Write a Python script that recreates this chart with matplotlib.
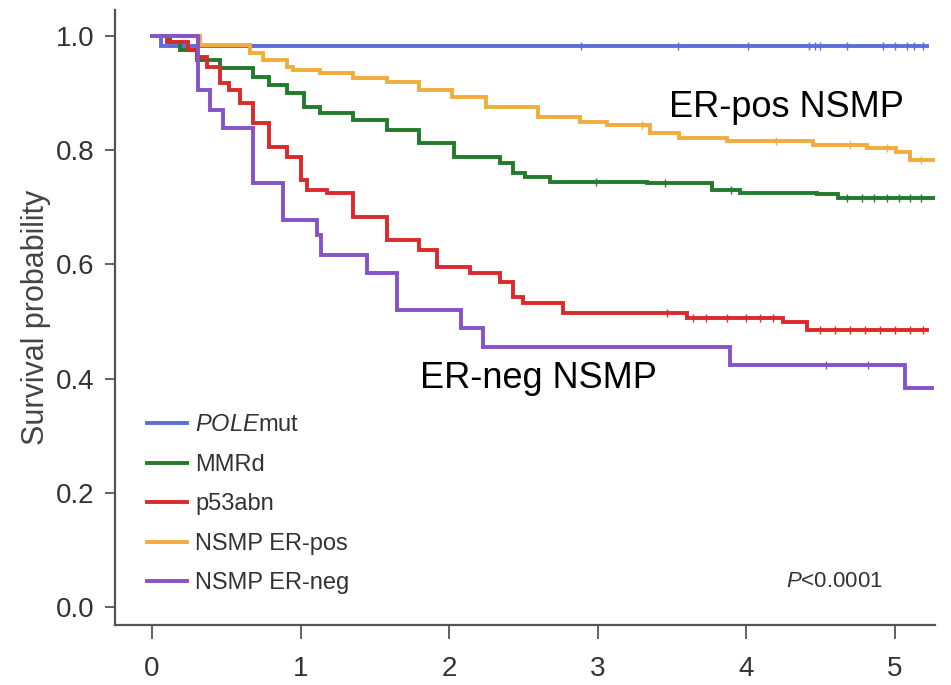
import numpy as np
import matplotlib
matplotlib.use("Agg")
import matplotlib.pyplot as plt
from matplotlib import font_manager

# Kaplan-Meier step data: event times (years) and survival after each step
pole_t = [0.0, 0.06]
pole_s = [1.0, 0.982]
pole_cens = [2.89, 3.54, 4.01, 4.42, 4.46, 4.50, 4.68, 4.92, 5.00, 5.08, 5.13, 5.19]

mmrd_t = [0.0, 0.12, 0.19, 0.30, 0.46, 0.68, 0.79, 0.91, 1.02, 1.13, 1.35, 1.58,
          1.80, 2.03, 2.34, 2.43, 2.51, 2.68, 3.33, 3.77, 3.96, 4.48, 4.62]
mmrd_s = [1.0, 0.990, 0.975, 0.958, 0.944, 0.928, 0.914, 0.900, 0.876, 0.865, 0.853, 0.835,
          0.813, 0.788, 0.778, 0.760, 0.753, 0.744, 0.742, 0.730, 0.725, 0.723, 0.716]
mmrd_cens = [2.99, 3.45, 3.90, 4.68, 4.78, 4.86, 4.95, 5.03, 5.10, 5.18]

p53_t = [0.0, 0.10, 0.24, 0.30, 0.37, 0.46, 0.52, 0.59, 0.68, 0.79, 0.91, 1.00, 1.04,
         1.18, 1.35, 1.58, 1.80, 1.92, 2.14, 2.34, 2.43, 2.50, 2.77, 3.60, 4.25, 4.41]
p53_s = [1.0, 0.990, 0.975, 0.963, 0.946, 0.918, 0.905, 0.883, 0.848, 0.806, 0.788, 0.748, 0.730,
         0.725, 0.683, 0.643, 0.625, 0.595, 0.585, 0.569, 0.543, 0.532, 0.515, 0.506, 0.499, 0.485]
p53_cens = [3.47, 3.64, 3.73, 3.87, 4.00, 4.09, 4.18, 4.50, 4.60, 4.70, 4.80, 4.90, 5.00, 5.10, 5.19]

erpos_t = [0.0, 0.32, 0.66, 0.75, 0.91, 0.95, 1.13, 1.35, 1.58, 1.80, 2.02, 2.25,
           2.60, 2.88, 3.06, 3.35, 3.55, 3.87, 4.45, 4.81, 5.01, 5.10]
erpos_s = [1.0, 0.984, 0.970, 0.958, 0.946, 0.940, 0.935, 0.926, 0.919, 0.905, 0.893, 0.876,
           0.858, 0.849, 0.844, 0.830, 0.821, 0.816, 0.809, 0.804, 0.797, 0.783]
erpos_cens = [3.30, 4.20, 4.70, 4.95, 5.18]

erneg_t = [0.0, 0.31, 0.39, 0.48, 0.68, 0.88, 1.11, 1.14, 1.45, 1.65, 2.08, 2.23, 3.89, 5.07]
erneg_s = [1.0, 0.906, 0.870, 0.839, 0.743, 0.678, 0.651, 0.616, 0.585, 0.520, 0.489, 0.455, 0.424, 0.384]
erneg_cens = [4.54, 4.82]

groups = ["POLEmut", "MMRd", "p53abn", "NSMP ER-pos", "NSMP ER-neg"]
labels = [r"$\mathit{POLE}$mut", "MMRd", "p53abn", "NSMP ER-pos", "NSMP ER-neg"]
colors = ["#5b6fd9", "#237a2a", "#dc2a2a", "#f0ad3c", "#8552c8"]
end_times = [5.22, 5.27, 5.22, 5.27, 5.25]
x_ticks = [0, 1, 2, 3, 4, 5]
y_ticks = [0.0, 0.2, 0.4, 0.6, 0.8, 1.0]

series = [(pole_t, pole_s, pole_cens), (mmrd_t, mmrd_s, mmrd_cens),
          (p53_t, p53_s, p53_cens), (erpos_t, erpos_s, erpos_cens),
          (erneg_t, erneg_s, erneg_cens)]

available = {f.name for f in font_manager.fontManager.ttflist}
narrow = "Liberation Sans Narrow" if "Liberation Sans Narrow" in available else "Liberation Sans"
plt.rcParams["font.family"] = [narrow, "DejaVu Sans"]
plt.rcParams["mathtext.fontset"] = "custom"
plt.rcParams["mathtext.it"] = narrow + ":italic"
plt.rcParams["mathtext.rm"] = narrow

fig = plt.figure(figsize=(9.51, 6.85), dpi=100)
ax = fig.add_axes([0.121, 0.0876, 0.862, 0.898])

handles = []
for (t, s, cens), lab, col, tend in zip(series, labels, colors, end_times):
    tt = list(t) + [tend]
    ss = list(s) + [s[-1]]
    h, = ax.step(tt, ss, where="post", color=col, lw=2.8, label=lab, solid_joinstyle="miter")
    handles.append(h)
    idx = np.searchsorted(np.asarray(t), np.asarray(cens), side="right") - 1
    cy = np.asarray(s)[idx]
    ax.plot(cens, cy, ls="none", marker="|", ms=6, mew=1.0, color=col)

ax.set_xlim(-0.249, 5.27)
ax.set_ylim(-0.0315, 1.0455)
ax.set_xticks(x_ticks)
ax.set_yticks(y_ticks)
ax.set_yticklabels([f"{v:.1f}" for v in y_ticks])

for side in ("top", "right"):
    ax.spines[side].set_visible(False)
for side in ("left", "bottom"):
    ax.spines[side].set_color("#555555")
    ax.spines[side].set_linewidth(1.6)

ax.tick_params(axis="x", length=10, width=1.3, color="#555555", pad=12,
               labelsize=20, labelcolor="#333333")
ax.tick_params(axis="y", length=7, width=1.3, color="#555555", pad=8,
               labelsize=20, labelcolor="#333333")

ax.set_ylabel("Survival probability", fontsize=22, color="#444444",
              family="Liberation Sans", labelpad=3)

leg = ax.legend(handles=handles, loc="lower left", bbox_to_anchor=(0.039, 0.05),
                frameon=False, fontsize=17, handlelength=1.7, handletextpad=0.35,
                labelspacing=0.74, borderpad=0, borderaxespad=0)
for txt in leg.get_texts():
    txt.set_color("#333333")

ax.text(0.937, 0.07, r"$\mathit{P}$<0.0001", transform=ax.transAxes, fontsize=16,
        color="#333333", ha="right", va="center")

ax.text(5.06, 0.875, "ER-pos NSMP", fontsize=26, family="Liberation Sans",
        color="black", ha="right", va="center")
ax.text(2.6, 0.431, "ER-neg NSMP", fontsize=26, family="Liberation Sans",
        color="black", ha="center", va="top")

fig.savefig("out.png", dpi=100)
